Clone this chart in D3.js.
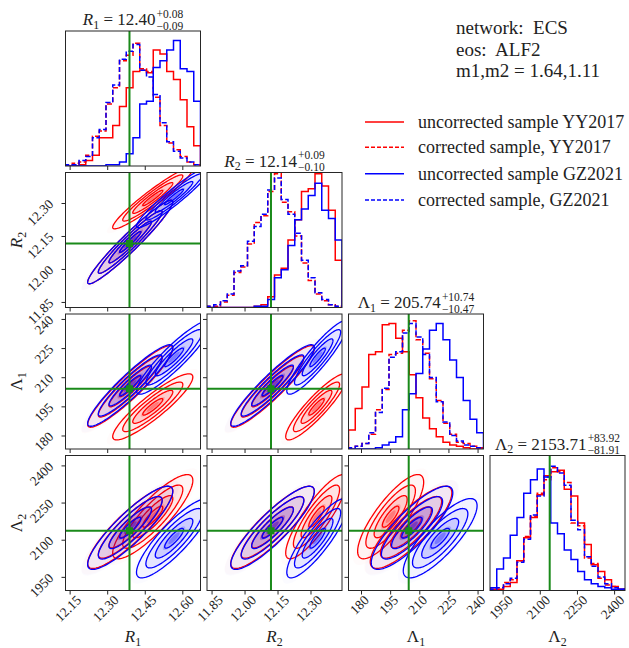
<!DOCTYPE html>
<html><head><meta charset="utf-8">
<script src="https://cdn.jsdelivr.net/npm/d3@7"></script>
<style>
body{margin:0;background:#fff}
svg{display:block}
text{font-family:"Liberation Serif","Times New Roman",serif;fill:#222}
</style>
</head><body><svg id="c" width="629" height="648"></svg>
<script>
// ---------------- DATA ----------------
const paramSymbols = ["R", "R", "\u039B", "\u039B"];
const paramSubs = ["1", "2", "1", "2"];
const paramItalic = [true, true, false, false];
const ranges = [[12.1315, 12.6706], [11.827, 12.441], [173.3, 242.8], [1897, 2442]];
const tickValues = [[12.15, 12.30, 12.45, 12.60], [11.85, 12.00, 12.15, 12.30], [180, 195, 210, 225, 240], [1950, 2100, 2250, 2400]];
const tickFormats = [".2f", ".2f", "d", "d"];
const truths = [12.387, 12.118, 204.3, 2138];
const titleMedians = ["12.40", "12.14", "205.74", "2153.71"];
const titlePlus = ["+0.08", "+0.09", "+10.74", "+83.92"];
const titleMinus = ["\u22120.09", "\u22120.10", "\u221210.47", "\u221281.91"];
const infoLines = ["network:  ECS", "eos:  ALF2", "m1,m2 = 1.64,1.11"];
const seriesNames = ["uncorrected sample YY2017", "corrected sample, YY2017", "uncorrected sample GZ2021", "corrected sample, GZ2021"];

// 1D histograms: 20 bins each, height in % of panel height
const histR1UncYY = [0,0,1,4,8,21,21,30,44,58,70,71,69,86,83,70,64,49,29,15];
const histR1CorYY = [1,2,3,8,22,26,46,58,78,82,91,72,70,51,30,17,12,7,3,1];
const histR1UncGZ = [0,0,0,0,0,0,1,1,3,9,21,46,48,73,78,86,93,72,70,48];
const histR1CorGZ = [1,1,4,7,21,27,47,60,79,85,90,71,66,53,32,18,11,6,3,1];

const histR2UncYY = [0,0,0,0,0,0,0,1,2,8,24,29,50,65,86,88,99,90,72,35];
const histR2CorYY = [1,1,4,9,26,30,47,63,68,86,99,78,71,53,33,20,10,5,2,1];
const histR2UncGZ = [0,0,0,0,0,0,0,1,1,6,22,28,46,65,73,83,92,72,66,50];
const histR2CorGZ = [1,2,5,10,27,31,49,60,69,87,96,80,69,55,35,22,11,6,2,1];

const histL1UncYY = [14,30,46,70,72,92,93,82,72,55,38,23,15,9,5,3,2,1,0,0];
const histL1CorYY = [1,2,4,11,29,44,70,71,88,95,81,71,52,36,19,11,5,4,2,1];
const histL1UncGZ = [0,0,0,0,1,3,5,9,29,41,56,74,88,93,81,66,53,36,22,12];
const histL1CorGZ = [1,2,4,12,27,45,68,72,86,93,83,70,53,35,20,10,6,3,2,1];

const histL2UncYY = [1,1,3,6,22,39,54,71,85,88,89,75,70,50,34,19,14,8,3,1];
const histL2CorYY = [2,2,6,8,22,40,55,72,82,91,88,80,50,48,24,20,9,4,3,1];
const histL2UncGZ = [2,16,24,41,54,72,82,90,84,50,42,30,23,14,8,5,3,2,1,1];
const histL2CorGZ = [1,2,5,9,21,38,56,70,84,92,87,78,52,45,25,18,10,5,2,1];

// 2D posterior summaries (Gaussian approximations)
// order: R1, R2, L1, L2 ; corr order: R1R2, R1L1, R1L2, R2L1, R2L2, L1L2
const meanUncYY = [12.48, 12.325, 195, 2195];
const sdUncYY = [0.080, 0.070, 8.5, 85];
const corrUncYY = [0.95, 0.90, 0.86, 0.90, 0.86, 0.82];
const meanCorYY = [12.39, 12.125, 205.5, 2152];
const sdCorYY = [0.085, 0.095, 10.5, 83];
const corrCorYY = [0.96, 0.93, 0.88, 0.93, 0.88, 0.84];
const meanUncGZ = [12.565, 12.33, 220.5, 2108];
const sdUncGZ = [0.075, 0.070, 9.5, 80];
const corrUncGZ = [0.95, 0.91, 0.86, 0.91, 0.86, 0.82];
const meanCorGZ = [12.39, 12.125, 206, 2150];
const sdCorGZ = [0.085, 0.095, 10.5, 84];
const corrCorGZ = [0.96, 0.93, 0.88, 0.93, 0.88, 0.84];

// ---------------- STYLE / BUILD ----------------
const series = [
  {name: seriesNames[0], color: "#ff0000", dash: null, hists: [histR1UncYY, histR2UncYY, histL1UncYY, histL2UncYY], mean: meanUncYY, sd: sdUncYY, corr: corrUncYY},
  {name: seriesNames[1], color: "#ff0000", dash: "5,2.4", hists: [histR1CorYY, histR2CorYY, histL1CorYY, histL2CorYY], mean: meanCorYY, sd: sdCorYY, corr: corrCorYY},
  {name: seriesNames[2], color: "#0000ff", dash: null, hists: [histR1UncGZ, histR2UncGZ, histL1UncGZ, histL2UncGZ], mean: meanUncGZ, sd: sdUncGZ, corr: corrUncGZ},
  {name: seriesNames[3], color: "#0000ff", dash: "5,2.4", hists: [histR1CorGZ, histR2CorGZ, histL1CorGZ, histL2CorGZ], mean: meanCorGZ, sd: sdCorGZ, corr: corrCorGZ}
];
const corrIndex = {"0,1":0, "0,2":1, "0,3":2, "1,2":3, "1,3":4, "2,3":5};
const contourLevels = [0.5, 1.0, 1.5, 2.0];
const fillLevels = [2.3, 2.0, 1.5, 1.0, 0.6, 0.3];
const fillAlpha = [0.015, 0.03, 0.06, 0.11, 0.17, 0.28];

const svg = d3.select("#c");
const N = 4, size = 135;
const left = i => 65.5 + i * 141.5;
const topY = i => 31 + i * 141.5;
const xScales = ranges.map((r, i) => d3.scaleLinear().domain(r).range([left(i), left(i) + size]));
const yScales = ranges.map((r, j) => d3.scaleLinear().domain(r).range([topY(j) + size, topY(j)]));
const tickFS = 13.5;
const frameColor = "#262626";
const truthColor = "#1a8a1a";

const defs = svg.append("defs");
for (let j = 0; j < N; j++) for (let i = 0; i <= j; i++) {
  defs.append("clipPath").attr("id", `clip${i}${j}`).append("rect")
    .attr("x", left(i)).attr("y", topY(j)).attr("width", size).attr("height", size);
}

const panels = {};
for (let j = 0; j < N; j++) for (let i = 0; i <= j; i++) {
  const g = svg.append("g");
  g.append("rect").attr("x", left(i)).attr("y", topY(j)).attr("width", size).attr("height", size).attr("fill", "#fff");
  const content = g.append("g").attr("clip-path", `url(#clip${i}${j})`);
  panels[`${i}${j}`] = {g, content};
}

// 1D histograms
for (let k = 0; k < N; k++) {
  const {content} = panels[`${k}${k}`];
  const x = xScales[k];
  const yh = d3.scaleLinear().domain([0, 100]).range([topY(k) + size, topY(k)]);
  const r = ranges[k];
  series.forEach(s => {
    const vals = s.hists[k];
    const nb = vals.length;
    const edges = d3.range(nb + 1).map(b => r[0] + b * (r[1] - r[0]) / nb);
    const pts = [[edges[0], 0]];
    vals.forEach((v, b) => { pts.push([edges[b], v]); pts.push([edges[b + 1], v]); });
    pts.push([edges[nb], 0]);
    content.append("path")
      .attr("d", d3.line().x(d => x(d[0])).y(d => yh(d[1]))(pts))
      .attr("fill", "none").attr("stroke", s.color).attr("stroke-width", 1.5)
      .attr("stroke-dasharray", s.dash);
  });
  content.append("line").attr("x1", x(truths[k])).attr("x2", x(truths[k]))
    .attr("y1", topY(k)).attr("y2", topY(k) + size).attr("stroke", truthColor).attr("stroke-width", 2);
}

// 2D panels
function ellipsePts(mx, my, sx, sy, rho, rr) {
  return d3.range(0, 121).map(t => {
    const a = t / 120 * 2 * Math.PI;
    return [mx + rr * sx * Math.cos(a), my + rr * sy * (rho * Math.cos(a) + Math.sqrt(1 - rho * rho) * Math.sin(a))];
  });
}
for (let j = 1; j < N; j++) for (let i = 0; i < j; i++) {
  const {content} = panels[`${i}${j}`];
  const x = xScales[i], y = yScales[j];
  const line = d3.line().x(d => x(d[0])).y(d => y(d[1])).curve(d3.curveLinearClosed);
  series.forEach(s => {
    const rho = s.corr[corrIndex[`${i},${j}`]];
    fillLevels.forEach((rr, li) => {
      content.append("path").attr("d", line(ellipsePts(s.mean[i], s.mean[j], s.sd[i], s.sd[j], rho, rr)))
        .attr("fill", s.color).attr("fill-opacity", fillAlpha[li]).attr("stroke", "none");
    });
    contourLevels.forEach(rr => {
      content.append("path").attr("d", line(ellipsePts(s.mean[i], s.mean[j], s.sd[i], s.sd[j], rho, rr)))
        .attr("fill", "none").attr("stroke", s.color).attr("stroke-width", 1.3);
    });
  });
  content.append("line").attr("x1", x(truths[i])).attr("x2", x(truths[i]))
    .attr("y1", topY(j)).attr("y2", topY(j) + size).attr("stroke", truthColor).attr("stroke-width", 2);
  content.append("line").attr("y1", y(truths[j])).attr("y2", y(truths[j]))
    .attr("x1", left(i)).attr("x2", left(i) + size).attr("stroke", truthColor).attr("stroke-width", 2);
  content.append("rect").attr("x", x(truths[i]) - 3.5).attr("y", y(truths[j]) - 3.5)
    .attr("width", 7).attr("height", 7).attr("fill", truthColor);
}

// frames and ticks
function fmt(k, v) { return d3.format(tickFormats[k])(v); }
for (let j = 0; j < N; j++) for (let i = 0; i <= j; i++) {
  const {g} = panels[`${i}${j}`];
  const x = xScales[i];
  const bottom = topY(j) + size;
  tickValues[i].forEach(v => {
    g.append("line").attr("x1", x(v)).attr("x2", x(v)).attr("y1", bottom).attr("y2", bottom + 4)
      .attr("stroke", frameColor).attr("stroke-width", 1);
  });
  if (i < j) {
    const y = yScales[j];
    tickValues[j].forEach(v => {
      g.append("line").attr("x1", left(i) - 4).attr("x2", left(i)).attr("y1", y(v)).attr("y2", y(v))
        .attr("stroke", frameColor).attr("stroke-width", 1);
    });
  }
  g.append("rect").attr("x", left(i)).attr("y", topY(j)).attr("width", size).attr("height", size)
    .attr("fill", "none").attr("stroke", frameColor).attr("stroke-width", 1);
}
const labelLayer = svg.append("g");
// x tick labels (bottom row)
for (let i = 0; i < N; i++) {
  const x = xScales[i];
  const bottom = topY(N - 1) + size;
  tickValues[i].forEach(v => {
    const t = labelLayer.append("text").attr("font-size", tickFS).attr("text-anchor", "middle")
      .attr("dominant-baseline", "central").text(fmt(i, v));
    const L = t.node().getComputedTextLength();
    const E = (L + 0.7 * tickFS) / Math.SQRT2;
    const cx = x(v) - 2, cy = bottom + 4 + E / 2;
    t.attr("x", cx).attr("y", cy).attr("transform", `rotate(-45,${cx},${cy})`);
  });
}
// y tick labels (left column)
for (let j = 1; j < N; j++) {
  const y = yScales[j];
  tickValues[j].forEach(v => {
    const t = labelLayer.append("text").attr("font-size", tickFS).attr("text-anchor", "middle")
      .attr("dominant-baseline", "central").text(fmt(j, v));
    const L = t.node().getComputedTextLength();
    const E = (L + 0.7 * tickFS) / Math.SQRT2;
    const cx = left(0) - 11 - E / 2, cy = y(v) - 5 + E / 2;
    t.attr("x", cx).attr("y", cy).attr("transform", `rotate(-45,${cx},${cy})`);
  });
}

// axis labels
function symLabel(parent, k, fs) {
  const t = parent.append("text").attr("font-size", fs);
  t.append("tspan").attr("font-style", paramItalic[k] ? "italic" : "normal").text(paramSymbols[k]);
  t.append("tspan").attr("font-size", fs * 0.7).attr("dy", fs * 0.22).text(paramSubs[k]);
  return t;
}
for (let i = 0; i < N; i++) {
  symLabel(labelLayer, i, 17).attr("text-anchor", "middle")
    .attr("x", left(i) + size / 2).attr("y", 642);
}
for (let j = 1; j < N; j++) {
  const cy = topY(j) + size / 2;
  symLabel(labelLayer, j, 17).attr("text-anchor", "middle")
    .attr("x", 22).attr("y", cy).attr("transform", `rotate(-90,22,${cy})`);
}

// titles
for (let k = 0; k < N; k++) {
  const base = topY(k) - 6;
  const g = labelLayer.append("g");
  const t = symLabel(g, k, 17).attr("y", base);
  t.append("tspan").attr("dy", -17 * 0.22).text(" = " + titleMedians[k]);
  const w = t.node().getComputedTextLength();
  const sp = g.append("text").attr("font-size", 11.5).attr("y", base - 7.5).text(titlePlus[k]);
  const sb = g.append("text").attr("font-size", 11.5).attr("y", base + 4.5).text(titleMinus[k]);
  const w2 = Math.max(sp.node().getComputedTextLength(), sb.node().getComputedTextLength());
  const x0 = left(k) + size / 2 - (w + 1 + w2) / 2;
  t.attr("x", x0);
  sp.attr("x", x0 + w + 1);
  sb.attr("x", x0 + w + 1);
}

// info text
infoLines.forEach((s, n) => {
  labelLayer.append("text").attr("x", 456).attr("y", 34 + n * 21.5).attr("font-size", 19)
    .style("white-space", "pre").text(s);
});

// legend
const legendY = [122, 147.3, 173.7, 200];
series.forEach((s, n) => {
  labelLayer.append("line").attr("x1", 365).attr("x2", 404).attr("y1", legendY[n]).attr("y2", legendY[n])
    .attr("stroke", s.color).attr("stroke-width", 1.5).attr("stroke-dasharray", s.dash ? "4,2" : null);
  labelLayer.append("text").attr("x", 418).attr("y", legendY[n] + 6).attr("font-size", 18).text(s.name);
});
</script>
</body></html>
